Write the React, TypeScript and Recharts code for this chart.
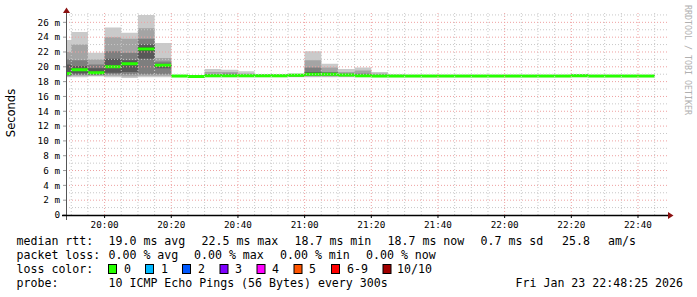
import { ComposedChart, Area, XAxis, YAxis, ReferenceLine } from 'recharts'

// step start times in minutes after 19:00 (first step starts at 19:48:25, last entry closes the 22:40 step)
const stepTimes = [48.42, 50, 55, 60, 65, 70, 75, 80, 85, 90, 95, 100, 105, 110, 115, 120, 125, 130, 135, 140, 145, 150, 155, 160, 165, 170, 175, 180, 185, 190, 195, 200, 205, 210, 215, 220, 225]

// median rtt per step (ms)
const median = [19.1, 19.6, 19.2, 20.0, 20.4, 22.4, 20.2, 18.75, 18.7, 18.8, 18.8, 18.8, 18.8, 18.8, 18.85, 19.0, 19.0, 18.9, 18.8, 18.75, 18.75, 18.75, 18.75, 18.75, 18.75, 18.75, 18.75, 18.75, 18.75, 18.75, 18.75, 18.8, 18.75, 18.75, 18.75, 18.75, 18.75]

// the 10 pings of each step, sorted (ms)
const ping1 = [18.6, 18.6, 18.7, 18.6, 18.5, 18.6, 18.6, 18.6, 18.55, 18.6, 18.6, 18.6, 18.6, 18.6, 18.6, 18.6, 18.6, 18.6, 18.6, 18.6, 18.6, 18.6, 18.6, 18.6, 18.6, 18.6, 18.6, 18.6, 18.6, 18.6, 18.6, 18.6, 18.6, 18.6, 18.6, 18.6, 18.6]
const ping2 = [18.7, 18.8, 18.8, 18.8, 18.7, 18.8, 18.8, 18.65, 18.6, 18.65, 18.65, 18.65, 18.65, 18.65, 18.65, 18.7, 18.7, 18.7, 18.65, 18.65, 18.65, 18.65, 18.65, 18.65, 18.65, 18.65, 18.65, 18.65, 18.65, 18.65, 18.65, 18.65, 18.65, 18.65, 18.65, 18.65, 18.65]
const ping3 = [18.8, 18.9, 18.9, 19.0, 19.0, 19.0, 19.0, 18.7, 18.65, 18.7, 18.7, 18.7, 18.7, 18.7, 18.7, 18.8, 18.8, 18.75, 18.7, 18.7, 18.7, 18.7, 18.7, 18.7, 18.7, 18.7, 18.7, 18.7, 18.7, 18.7, 18.7, 18.7, 18.7, 18.7, 18.7, 18.7, 18.7]
const ping4 = [18.9, 19.1, 19.0, 19.2, 19.3, 21.1, 19.8, 18.7, 18.7, 18.75, 18.75, 18.75, 18.75, 18.75, 18.75, 18.85, 18.9, 18.8, 18.75, 18.7, 18.7, 18.7, 18.7, 18.7, 18.7, 18.7, 18.7, 18.7, 18.7, 18.7, 18.7, 18.75, 18.7, 18.7, 18.7, 18.7, 18.7]
const ping5 = [19.0, 19.5, 19.1, 19.9, 20.3, 22.2, 20.1, 18.75, 18.7, 18.8, 18.8, 18.8, 18.8, 18.8, 18.8, 18.95, 18.95, 18.85, 18.8, 18.75, 18.75, 18.75, 18.75, 18.75, 18.75, 18.75, 18.75, 18.75, 18.75, 18.75, 18.75, 18.8, 18.75, 18.75, 18.75, 18.75, 18.75]
const ping6 = [19.2, 19.7, 19.3, 20.1, 20.5, 22.6, 20.3, 18.75, 18.7, 18.8, 18.8, 18.8, 18.8, 18.8, 18.9, 19.05, 19.05, 18.95, 18.8, 18.75, 18.75, 18.75, 18.75, 18.75, 18.75, 18.75, 18.75, 18.75, 18.75, 18.75, 18.75, 18.8, 18.75, 18.75, 18.75, 18.75, 18.75]
const ping7 = [20.3, 20.1, 19.8, 21.1, 20.9, 23.0, 20.4, 18.8, 18.75, 18.9, 18.9, 18.85, 18.85, 18.85, 18.9, 19.3, 19.2, 19.0, 18.9, 18.8, 18.8, 18.8, 18.8, 18.8, 18.8, 18.8, 18.8, 18.8, 18.8, 18.8, 18.8, 18.85, 18.8, 18.8, 18.8, 18.8, 18.8]
const ping8 = [21.0, 20.9, 20.3, 22.1, 21.9, 23.8, 20.7, 18.8, 18.8, 19.0, 19.1, 18.9, 18.9, 18.9, 18.95, 19.9, 19.3, 19.1, 19.1, 18.9, 18.85, 18.8, 18.8, 18.8, 18.8, 18.8, 18.8, 18.8, 18.8, 18.8, 18.8, 18.9, 18.8, 18.8, 18.8, 18.8, 18.8]
const ping9 = [22.0, 23.0, 21.0, 24.0, 23.8, 25.2, 21.2, 18.85, 18.85, 19.3, 19.3, 19.1, 18.95, 18.95, 19.0, 20.9, 19.9, 19.3, 19.5, 19.1, 18.9, 18.85, 18.85, 18.85, 18.85, 18.85, 18.85, 18.85, 18.85, 18.85, 18.85, 18.95, 18.85, 18.85, 18.85, 18.85, 18.85]
const ping10 = [23.6, 24.7, 21.9, 25.3, 24.6, 27.0, 23.2, 18.9, 18.9, 19.7, 19.6, 19.4, 19.0, 19.0, 19.1, 22.1, 20.4, 19.7, 19.9, 19.3, 19.0, 18.9, 18.9, 18.9, 18.9, 18.9, 18.9, 18.9, 18.9, 18.9, 18.9, 19.0, 18.9, 18.9, 18.9, 18.9, 18.9]

const timeTicks = [60, 80, 100, 120, 140, 160, 180, 200, 220]
const timeLabels = ['20:00', '20:20', '20:40', '21:00', '21:20', '21:40', '22:00', '22:20', '22:40']
const yTicks = [0, 2, 4, 6, 8, 10, 12, 14, 16, 18, 20, 22, 24, 26]

const minorX = Array.from({ length: 36 }, (_, i) => 50 + i * 5).filter(v => !timeTicks.includes(v))
const minorY = Array.from({ length: 27 }, (_, i) => i + 1).filter(v => !yTicks.includes(v))

const smokeColors = ['#cacaca', '#a4a4a4', '#7e7e7e', '#585858', '#323232']
const lossColors = [
  { label: '0', color: '#26ff00', box: 108.5, text: 124 },
  { label: '1', color: '#00b8ff', box: 145.5, text: 161 },
  { label: '2', color: '#0059ff', box: 182.5, text: 198 },
  { label: '3', color: '#7e00ff', box: 220, text: 235 },
  { label: '4', color: '#ff00ff', box: 257, text: 272 },
  { label: '5', color: '#ff5500', box: 294, text: 309 },
  { label: '6-9', color: '#ff0000', box: 331.5, text: 347 },
  { label: '10/10', color: '#a10000', box: 383, text: 397 },
]

const MEDIAN_HALF = 0.2

const rows = stepTimes.map((t, i) => ({
  t,
  b1: [ping1[i], ping10[i]],
  b2: [ping2[i], ping9[i]],
  b3: [ping3[i], ping8[i]],
  b4: [ping4[i], ping7[i]],
  b5: [ping5[i], ping6[i]],
  med: [median[i] - MEDIAN_HALF, median[i] + MEDIAN_HALF],
}))

const mono = 'DejaVu Sans Mono'

export default function App() {
  return (
    <div style={{ position: 'absolute', left: 0, top: 0, width: 697, height: 297, background: '#fff', overflow: 'hidden' }}>
      <ComposedChart width={697} height={297} data={rows} margin={{ top: 13, right: 29, bottom: 60, left: 0 }}>
        <XAxis
          type="number"
          dataKey="t"
          scale="linear"
          domain={[48.42, 229.0]}
          ticks={timeTicks}
          interval={0}
          tickFormatter={(v: number) => timeLabels[timeTicks.indexOf(v)] ?? ''}
          allowDataOverflow
          height={22}
          tickSize={3}
          tickMargin={3}
          axisLine={false}
          tickLine={{ stroke: '#000' }}
          tick={{ fontSize: 9.3, fontFamily: mono, fill: '#000' }}
        />
        <YAxis
          type="number"
          domain={[0, 27.26]}
          ticks={yTicks}
          interval={0}
          tickFormatter={(v: number) => (v === 0 ? '0' : `${v} m`)}
          allowDataOverflow
          width={66}
          tickSize={3}
          tickMargin={3}
          axisLine={false}
          tickLine={{ stroke: '#999' }}
          tick={{ fontSize: 9.3, fontFamily: mono, fill: '#000' }}
        />
        {(['b1', 'b2', 'b3', 'b4', 'b5'] as const).map((k, i) => (
          <Area key={k} type="stepAfter" dataKey={k} fill={smokeColors[i]} fillOpacity={1} stroke="none" dot={false} activeDot={false} isAnimationActive={false} />
        ))}
        <Area type="stepAfter" dataKey="med" fill="#26ff00" fillOpacity={1} stroke="none" dot={false} activeDot={false} isAnimationActive={false} />
        {minorX.map(v => (
          <ReferenceLine key={'mx' + v} x={v} stroke="#c8c8c8" strokeDasharray="1 2" />
        ))}
        {minorY.map(v => (
          <ReferenceLine key={'my' + v} y={v} stroke="#c8c8c8" strokeDasharray="1 2" />
        ))}
        {timeTicks.map(v => (
          <ReferenceLine key={'Mx' + v} x={v} stroke="#eea0a0" strokeDasharray="1 2" />
        ))}
        {yTicks.filter(v => v > 0).map(v => (
          <ReferenceLine key={'My' + v} y={v} stroke="#eea0a0" strokeDasharray="1 2" />
        ))}
      </ComposedChart>
      <svg width={697} height={297} style={{ position: 'absolute', left: 0, top: 0, pointerEvents: 'none' }}>
        <line x1={66.5} y1={220} x2={66.5} y2={12} stroke="#555" strokeWidth={1} />
        <polygon points="63,13 70,13 66.5,7.5" fill="#8b1010" />
        <line x1={62} y1={215.5} x2={668} y2={215.5} stroke="#000" strokeWidth={1.3} />
        <polygon points="668,212 668,219 673.5,215.5" fill="#8b1010" />
        <text transform="translate(15,113) rotate(-90)" textAnchor="middle" fontFamily="DejaVu Sans" fontSize={11.5} fill="#000">Seconds</text>
        <text transform="translate(684.5,5) rotate(90)" fontFamily={mono} fontSize={8.3} fill="#b0b0b0">RRDTOOL / TOBI OETIKER</text>
        <g fontFamily={mono} fontSize={11.6} fill="#000">
          <text x={16.5} y={245}>median rtt:</text>
          <text x={108.5} y={245}>19.0 ms avg</text>
          <text x={201.5} y={245}>22.5 ms max</text>
          <text x={294.5} y={245}>18.7 ms min</text>
          <text x={387.5} y={245}>18.7 ms now</text>
          <text x={480.5} y={245}>0.7 ms sd</text>
          <text x={562} y={245}>25.8</text>
          <text x={608} y={245}>am/s</text>
          <text x={16.5} y={259}>packet loss:</text>
          <text x={108.5} y={259}>0.00 % avg</text>
          <text x={194} y={259}>0.00 % max</text>
          <text x={280} y={259}>0.00 % min</text>
          <text x={366} y={259}>0.00 % now</text>
          <text x={16.5} y={273}>loss color:</text>
          {lossColors.map(l => (
            <g key={l.label}>
              <rect x={l.box} y={264.5} width={8} height={9} fill={l.color} stroke="#000" strokeWidth={1} />
              <text x={l.text} y={273}>{l.label}</text>
            </g>
          ))}
          <text x={16.5} y={287}>probe:</text>
          <text x={108.5} y={287}>10 ICMP Echo Pings (56 Bytes) every 300s</text>
          <text x={515.5} y={287}>Fri Jan 23 22:48:25 2026</text>
        </g>
      </svg>
    </div>
  )
}
